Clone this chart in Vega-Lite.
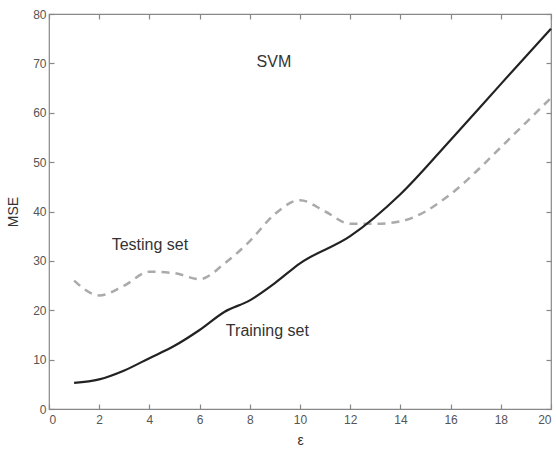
{
  "$schema": "https://vega.github.io/schema/vega-lite/v6.json",
  "autosize": "none",
  "padding": {"left": 49, "top": 14, "right": 5, "bottom": 43},
  "width": 502,
  "height": 395,
  "background": "white",
  "config": {
    "view": {"stroke": "#888", "strokeWidth": 1.2},
    "axis": {"labelFont": "Liberation Sans", "titleFont": "Liberation Sans", "labelColor": "#555", "titleColor": "#333", "labelFontSize": 12, "titleFontSize": 14, "titleFontWeight": "normal", "domain": false, "grid": false, "tickColor": "#888", "tickSize": -5, "tickWidth": 1.2}
  },
  "datasets": {
    "curves": [
      {"eps": 1, "mse": 5.3, "set": "Training set"},
      {"eps": 2, "mse": 6.0, "set": "Training set"},
      {"eps": 3, "mse": 7.8, "set": "Training set"},
      {"eps": 4, "mse": 10.3, "set": "Training set"},
      {"eps": 5, "mse": 12.8, "set": "Training set"},
      {"eps": 6, "mse": 16.0, "set": "Training set"},
      {"eps": 7, "mse": 19.7, "set": "Training set"},
      {"eps": 8, "mse": 22.0, "set": "Training set"},
      {"eps": 9, "mse": 25.5, "set": "Training set"},
      {"eps": 10, "mse": 29.5, "set": "Training set"},
      {"eps": 12, "mse": 35.0, "set": "Training set"},
      {"eps": 14, "mse": 43.5, "set": "Training set"},
      {"eps": 16, "mse": 54.5, "set": "Training set"},
      {"eps": 18, "mse": 65.8, "set": "Training set"},
      {"eps": 20, "mse": 77.0, "set": "Training set"},
      {"eps": 1, "mse": 26.0, "set": "Testing set"},
      {"eps": 2, "mse": 23.0, "set": "Testing set"},
      {"eps": 3, "mse": 25.0, "set": "Testing set"},
      {"eps": 4, "mse": 27.8, "set": "Testing set"},
      {"eps": 5, "mse": 27.5, "set": "Testing set"},
      {"eps": 6, "mse": 26.3, "set": "Testing set"},
      {"eps": 7, "mse": 29.5, "set": "Testing set"},
      {"eps": 8, "mse": 34.0, "set": "Testing set"},
      {"eps": 9, "mse": 39.5, "set": "Testing set"},
      {"eps": 10, "mse": 42.3, "set": "Testing set"},
      {"eps": 11, "mse": 40.0, "set": "Testing set"},
      {"eps": 12, "mse": 37.5, "set": "Testing set"},
      {"eps": 13, "mse": 37.5, "set": "Testing set"},
      {"eps": 14, "mse": 38.0, "set": "Testing set"},
      {"eps": 16, "mse": 43.5, "set": "Testing set"},
      {"eps": 17, "mse": 48.0, "set": "Testing set"},
      {"eps": 18, "mse": 53.0, "set": "Testing set"},
      {"eps": 20, "mse": 63.0, "set": "Testing set"}
    ],
    "labels": [
      {"eps": 8.96, "mse": 70.2, "text": "SVM"},
      {"eps": 4.02, "mse": 33.2, "text": "Testing set"},
      {"eps": 8.7, "mse": 15.8, "text": "Training set"}
    ]
  },
  "layer": [
    {
      "data": {"name": "curves"},
      "transform": [{"filter": "datum.set === 'Testing set'"}],
      "mark": {"type": "line", "color": "#aaaaaa", "strokeWidth": 2.5, "strokeDash": [8, 6], "interpolate": "monotone"},
      "encoding": {
        "x": {"field": "eps", "type": "quantitative", "scale": {"domain": [0, 20], "nice": false}, "axis": {"title": "ε", "values": [0,2,4,6,8,10,12,14,16,18,20], "labelPadding": 10, "titlePadding": 8}},
        "y": {"field": "mse", "type": "quantitative", "scale": {"domain": [0, 80], "nice": false}, "axis": {"title": "MSE", "values": [0,10,20,30,40,50,60,70,80], "labelPadding": 8, "titlePadding": 12}}
      }
    },
    {
      "data": {"name": "curves"},
      "transform": [{"filter": "datum.set === 'Training set'"}],
      "mark": {"type": "line", "color": "#222222", "strokeWidth": 2.2, "interpolate": "monotone"},
      "encoding": {
        "x": {"field": "eps", "type": "quantitative", "axis": {"orient": "top", "labels": false, "title": null, "values": [0,2,4,6,8,10,12,14,16,18,20]}},
        "y": {"field": "mse", "type": "quantitative", "axis": {"orient": "right", "labels": false, "title": null, "values": [0,10,20,30,40,50,60,70,80]}}
      }
    },
    {
      "data": {"name": "labels"},
      "mark": {"type": "text", "font": "Liberation Sans", "fontSize": 16, "color": "#333", "align": "center", "baseline": "middle"},
      "encoding": {
        "x": {"field": "eps", "type": "quantitative", "axis": null},
        "y": {"field": "mse", "type": "quantitative", "axis": null},
        "text": {"field": "text"}
      }
    }
  ],
  "resolve": {"axis": {"x": "independent", "y": "independent"}}
}
